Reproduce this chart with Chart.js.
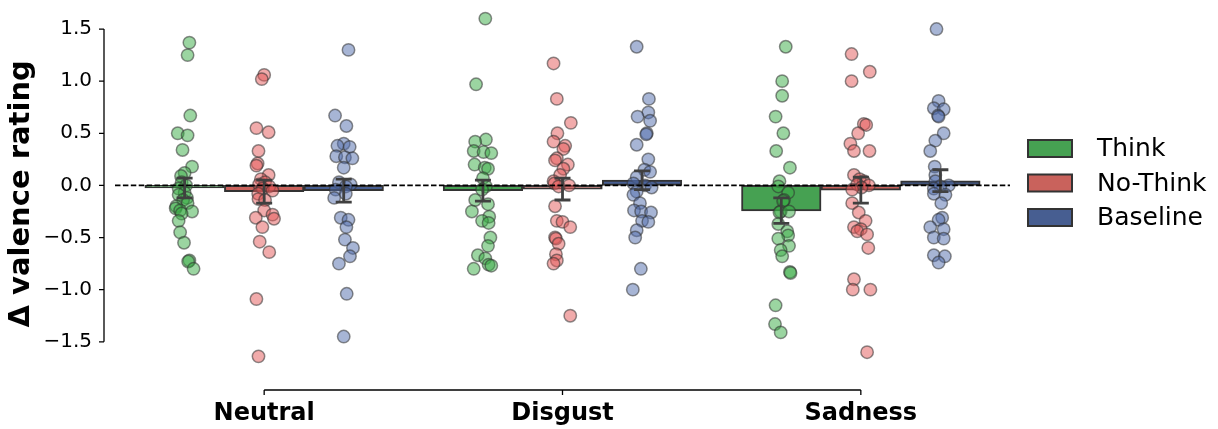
<!DOCTYPE html>
<html><head><meta charset="utf-8">
<script src="https://cdn.jsdelivr.net/npm/chart.js@4.4.1/dist/chart.umd.min.js"></script>
<style>html,body{margin:0;padding:0;background:#fff}#wrap{width:1218px;height:429px;position:relative}</style>
</head><body><div id="wrap"><canvas id="c"></canvas></div>
<script>
const categories = ['Neutral', 'Disgust', 'Sadness'];
const conditions = ['Think', 'No-Think', 'Baseline'];
const yTicks = [-1.5, -1.0, -0.5, 0.0, 0.5, 1.0, 1.5];
const yTitle = 'Δ valence rating';

// bar heights (means) and 95% CI per category
const thinkMean = [-0.025, -0.05, -0.245];
const thinkLow = [-0.12, -0.15, -0.365];
const thinkHigh = [0.07, 0.05, -0.12];
const noThinkMean = [-0.06, -0.035, -0.045];
const noThinkLow = [-0.17, -0.14, -0.17];
const noThinkHigh = [0.05, 0.07, 0.08];
const baselineMean = [-0.05, 0.05, 0.045];
const baselineLow = [-0.16, -0.04, -0.06];
const baselineHigh = [0.06, 0.14, 0.15];

// individual points: [value, jitter offset (category units)]
const thinkNeutral = [[1.37,0.016],[1.25,0.010],[0.67,0.019],[0.50,-0.023],[0.48,0.010],[0.34,-0.007],[0.18,0.025],[0.12,0.000],[0.09,-0.012],[0.03,-0.010],[0.00,0.005],[-0.03,-0.020],[-0.07,0.000],[-0.09,-0.020],[-0.12,0.008],[-0.14,-0.005],[-0.17,0.010],[-0.20,-0.028],[-0.22,-0.030],[-0.24,-0.015],[-0.25,0.025],[-0.27,-0.010],[-0.34,-0.020],[-0.45,-0.015],[-0.55,-0.002],[-0.72,0.016],[-0.73,0.012],[-0.80,0.030]];
const noThinkNeutral = [[1.06,0.000],[1.02,-0.008],[0.55,-0.026],[0.51,0.015],[0.33,-0.019],[0.21,-0.022],[0.19,-0.026],[0.10,0.015],[0.06,-0.011],[0.03,0.003],[0.01,-0.017],[-0.01,0.017],[-0.03,-0.005],[-0.05,0.028],[-0.08,-0.020],[-0.13,-0.019],[-0.14,0.003],[-0.24,0.000],[-0.28,0.028],[-0.31,-0.028],[-0.32,0.033],[-0.40,-0.006],[-0.54,-0.015],[-0.64,0.017],[-1.09,-0.026],[-1.64,-0.019]];
const baselineNeutral = [[1.30,0.016],[0.67,-0.029],[0.57,0.009],[0.40,0.000],[0.38,-0.021],[0.37,0.020],[0.28,-0.025],[0.27,0.004],[0.26,0.029],[0.17,0.000],[0.03,-0.016],[0.01,0.023],[-0.01,0.007],[-0.04,-0.027],[-0.08,0.007],[-0.12,-0.032],[-0.31,-0.010],[-0.33,0.016],[-0.40,0.009],[-0.52,0.004],[-0.60,0.031],[-0.68,0.021],[-0.75,-0.016],[-1.04,0.010],[-1.45,0.000]];
const thinkDisgust = [[1.60,0.008],[0.97,-0.023],[0.44,0.010],[0.42,-0.026],[0.33,-0.031],[0.32,0.002],[0.31,0.028],[0.20,-0.028],[0.17,0.006],[0.16,0.017],[0.07,0.000],[-0.01,0.010],[-0.04,-0.003],[-0.14,-0.026],[-0.18,0.017],[-0.25,-0.037],[-0.30,0.021],[-0.34,-0.003],[-0.36,0.019],[-0.50,0.025],[-0.58,0.017],[-0.67,-0.017],[-0.70,0.008],[-0.76,0.019],[-0.77,0.028],[-0.80,-0.031]];
const noThinkDisgust = [[1.17,-0.030],[0.83,-0.019],[0.60,0.028],[0.50,-0.017],[0.42,-0.030],[0.38,0.009],[0.35,0.003],[0.26,-0.019],[0.24,-0.025],[0.20,0.018],[0.16,0.003],[0.10,-0.008],[0.04,-0.030],[0.02,-0.027],[0.00,0.022],[-0.01,-0.013],[-0.20,-0.025],[-0.34,-0.019],[-0.35,0.000],[-0.40,0.026],[-0.50,-0.025],[-0.51,-0.022],[-0.56,-0.013],[-0.66,-0.022],[-0.72,-0.019],[-0.75,-0.030],[-1.25,0.026]];
const baselineDisgust = [[1.33,-0.018],[0.83,0.023],[0.70,0.021],[0.66,-0.015],[0.62,0.027],[0.50,0.016],[0.49,0.014],[0.39,-0.018],[0.25,0.021],[0.15,0.008],[0.13,0.027],[0.08,-0.018],[0.02,-0.029],[0.00,0.010],[-0.02,0.032],[-0.06,-0.018],[-0.09,-0.029],[-0.17,-0.007],[-0.24,-0.027],[-0.25,-0.003],[-0.26,0.030],[-0.34,0.000],[-0.35,0.021],[-0.43,-0.018],[-0.50,-0.023],[-0.80,-0.004],[-1.00,-0.031]];
const thinkSadness = [[1.33,0.015],[1.00,0.003],[0.86,0.003],[0.66,-0.019],[0.50,0.007],[0.33,-0.017],[0.17,0.029],[0.04,-0.006],[-0.01,-0.010],[-0.07,0.023],[-0.14,0.009],[-0.15,0.006],[-0.25,-0.002],[-0.26,-0.006],[-0.25,0.026],[-0.37,-0.010],[-0.44,0.020],[-0.48,0.023],[-0.51,-0.010],[-0.58,0.026],[-0.62,-0.002],[-0.68,0.003],[-0.83,0.029],[-0.84,0.031],[-1.15,-0.019],[-1.33,-0.021],[-1.41,-0.002]];
const noThinkSadness = [[1.26,-0.031],[1.09,0.030],[1.00,-0.031],[0.59,0.010],[0.58,0.018],[0.50,-0.009],[0.40,-0.035],[0.33,-0.023],[0.33,0.029],[0.10,-0.023],[0.06,-0.004],[0.04,0.010],[0.01,-0.012],[0.00,0.027],[-0.02,0.002],[-0.04,-0.029],[-0.17,-0.029],[-0.26,-0.007],[-0.34,0.016],[-0.40,-0.023],[-0.42,0.000],[-0.44,-0.012],[-0.47,0.021],[-0.60,0.025],[-0.90,-0.023],[-1.00,-0.027],[-1.00,0.032],[-1.60,0.021]];
const baselineSadness = [[1.50,-0.013],[0.81,-0.006],[0.74,-0.022],[0.73,0.011],[0.67,-0.008],[0.66,-0.006],[0.50,0.011],[0.43,-0.017],[0.33,-0.034],[0.18,-0.019],[0.10,-0.017],[0.04,-0.017],[0.00,0.028],[-0.01,0.000],[-0.03,-0.022],[-0.08,-0.022],[-0.09,0.017],[-0.17,0.003],[-0.31,0.006],[-0.33,-0.006],[-0.40,-0.034],[-0.42,0.011],[-0.50,-0.022],[-0.51,0.011],[-0.67,-0.022],[-0.68,0.015],[-0.74,-0.006]];

const barColors = ['#46a152', '#c9625c', '#475e91'];
const pointFill = ['rgba(55,172,68,0.5)', 'rgba(228,88,88,0.5)', 'rgba(80,108,172,0.5)'];
const FONT = "'DejaVu Sans', sans-serif";

const means = [thinkMean, noThinkMean, baselineMean];
const lows = [thinkLow, noThinkLow, baselineLow];
const highs = [thinkHigh, noThinkHigh, baselineHigh];
const strips = [
  [thinkNeutral, thinkDisgust, thinkSadness],
  [noThinkNeutral, noThinkDisgust, noThinkSadness],
  [baselineNeutral, baselineDisgust, baselineSadness]
];
// seaborn-style dodge: 3 hues share 80% of each category slot
const hueOffset = h => (h - 1) * 0.8 / 3;

const datasets = [];
conditions.forEach((name, h) => {
  datasets.push({
    type: 'bar', label: name,
    data: means[h].map((m, c) => ({ x: c + hueOffset(h), y: m })),
    xAxisID: 'xb', yAxisID: 'y', grouped: false,
    backgroundColor: barColors[h], borderColor: '#333333', borderWidth: 2,
    borderSkipped: false, categoryPercentage: 1.0, barPercentage: 1.0, order: 3
  });
});
conditions.forEach((name, h) => {
  const pts = [];
  strips[h].forEach((arr, c) => arr.forEach(([v, j]) => pts.push({ x: c + hueOffset(h) + j, y: v })));
  datasets.push({
    type: 'scatter', label: name + ' points', data: pts, xAxisID: 'xp', yAxisID: 'y',
    backgroundColor: pointFill[h], borderColor: 'rgba(50,50,50,0.55)', borderWidth: 1.5,
    pointRadius: 6.2, pointHoverRadius: 6.2, clip: false, order: 1
  });
});

const decor = {
  id: 'decor',
  afterDatasetsDraw(chart) {
    const {ctx, chartArea, scales} = chart;
    const y = scales.y, xs = scales.xp;
    ctx.save();
    ctx.strokeStyle = '#404040';
    ctx.lineWidth = 2.8;
    for (let h = 0; h < 3; h++) {
      for (let c = 0; c < 3; c++) {
        const xc = xs.getPixelForValue(c + hueOffset(h));
        const lo = y.getPixelForValue(lows[h][c]);
        const hi = y.getPixelForValue(highs[h][c]);
        const cw = 8;
        ctx.beginPath();
        ctx.moveTo(xc, lo); ctx.lineTo(xc, hi);
        ctx.moveTo(xc - cw, lo); ctx.lineTo(xc + cw, lo);
        ctx.moveTo(xc - cw, hi); ctx.lineTo(xc + cw, hi);
        ctx.stroke();
      }
    }
    const y0 = y.getPixelForValue(0);
    ctx.setLineDash([5.5, 2.4]);
    ctx.strokeStyle = '#000';
    ctx.lineWidth = 1.6;
    ctx.beginPath();
    ctx.moveTo(chartArea.left, y0); ctx.lineTo(chartArea.right, y0);
    ctx.stroke();
    ctx.restore();
  },
  afterDraw(chart) {
    const {ctx, chartArea, scales} = chart;
    const y = scales.y, x = scales.x;
    ctx.save();
    ctx.strokeStyle = '#000';
    ctx.lineWidth = 1.3;
    const sx = chartArea.left - 11;
    ctx.beginPath();
    ctx.moveTo(sx, y.getPixelForValue(yTicks[yTicks.length - 1]));
    ctx.lineTo(sx, y.getPixelForValue(yTicks[0]));
    yTicks.forEach(v => { const p = y.getPixelForValue(v); ctx.moveTo(sx - 5, p); ctx.lineTo(sx, p); });
    ctx.stroke();
    const sy = chartArea.bottom + 10;
    ctx.beginPath();
    ctx.moveTo(x.getPixelForValue(0), sy);
    ctx.lineTo(x.getPixelForValue(categories.length - 1), sy);
    categories.forEach((_, i) => { const p = x.getPixelForValue(i); ctx.moveTo(p, sy); ctx.lineTo(p, sy + 5); });
    ctx.stroke();
    const lx = 1028, ly0 = 148.5, dy = 34.5;
    ctx.font = "25px " + FONT;
    ctx.textBaseline = 'middle';
    ctx.textAlign = 'left';
    conditions.forEach((name, h) => {
      const cy = ly0 + h * dy;
      ctx.fillStyle = barColors[h];
      ctx.fillRect(lx, cy - 8.5, 44, 17);
      ctx.strokeStyle = '#333333';
      ctx.lineWidth = 2;
      ctx.strokeRect(lx, cy - 8.5, 44, 17);
      ctx.fillStyle = '#000';
      ctx.fillText(name, 1097, cy + 1);
    });
    ctx.restore();
  }
};

new Chart(document.getElementById('c'), {
  type: 'bar',
  data: { labels: categories, datasets },
  options: {
    responsive: true, maintainAspectRatio: false, animation: false, devicePixelRatio: 1,
    layout: { padding: { left: 0, top: 5, right: 208, bottom: 0 } },
    plugins: { legend: { display: false }, tooltip: { enabled: false } },
    scales: {
      x: {
        type: 'category', offset: true,
        grid: { display: false, drawTicks: false, offset: true }, border: { display: false },
        ticks: { color: '#000', padding: 21, font: { family: FONT, size: 24, weight: 'bold', lineHeight: 1.1 } },
        afterFit(s) { s.height = 49; s.paddingLeft = 0; s.paddingRight = 0; }
      },
      xb: { type: 'linear', min: -0.5, max: 2.5, offset: false, grid: { offset: false }, ticks: { stepSize: 1 }, display: false },
      xp: { type: 'linear', min: -0.5, max: 2.5, offset: false, grid: { offset: false }, ticks: { stepSize: 1 }, display: false },
      y: {
        type: 'linear', min: -196 / 105, max: 179 / 105,
        grid: { display: false, drawTicks: false }, border: { display: false },
        afterBuildTicks(s) { s.ticks = yTicks.map(v => ({ value: v })); },
        ticks: {
          color: '#000', padding: 23, font: { family: FONT, size: 20 },
          callback: v => (v < 0 ? '\u2212' : '') + Math.abs(v).toFixed(1)
        },
        title: { display: true, text: yTitle, color: '#000', padding: { top: 7, bottom: 0 },
                 font: { family: FONT, size: 29, weight: 'bold', lineHeight: 1 } },
        afterFit(s) { s.width = 115; s.paddingTop = 0; s.paddingBottom = 0; }
      }
    }
  },
  plugins: [decor]
});
</script>
</body></html>
